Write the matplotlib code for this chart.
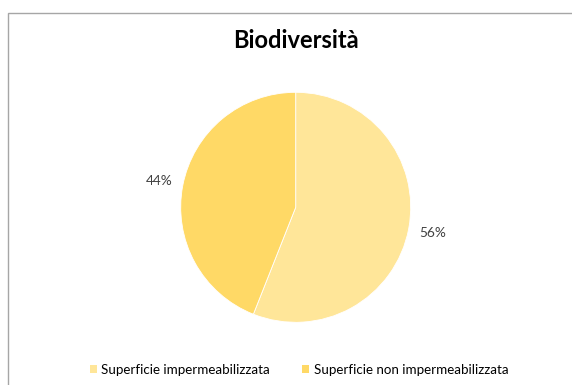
import matplotlib.pyplot as plt
from matplotlib.patches import Rectangle, Patch

# Dati
categorie = ['Superficie impermeabilizzata', 'Superficie non impermeabilizzata']
valori = [56, 44]
colori = ['#FFE699', '#FFD966']
titolo = 'Biodiversità'

plt.rcParams['font.family'] = ['Lato', 'DejaVu Sans']

W, H = 572, 385
fig = plt.figure(figsize=(W / 100, H / 100), dpi=100)

# cornice grigia del grafico (esce a destra e in basso)
fig.patches.append(Rectangle((8 / W, -0.1), 1.2, (H - 13.5) / H + 0.1,
                             transform=fig.transFigure, fill=False,
                             edgecolor='#A6A6A6', linewidth=1.0))

# torta: centro (295.7, 207.3) px, raggio 115 px
cx, cy, r = 295.7, 207.3, 115
ax = fig.add_axes([(cx - r) / W, (H - cy - r) / H, 2 * r / W, 2 * r / H])
wedges, testi, pct = ax.pie(valori, colors=colori, startangle=90, counterclock=False,
                            radius=1, autopct='%.0f%%', pctdistance=1.21,
                            wedgeprops=dict(edgecolor='white', linewidth=0.6),
                            textprops=dict(fontsize=9.8, color='#404040'))
ax.set_xlim(-1, 1)
ax.set_ylim(-1, 1)
ax.axis('off')

fig.text(cx / W, (H - 48) / H, titolo, ha='center', va='baseline',
         fontsize=17, fontweight='bold', color='black')

maniglie = [Patch(facecolor=c, edgecolor='none') for c in colori]
fig.legend(maniglie, categorie, ncol=2, frameon=False, fontsize=9.6,
           loc='center left', bbox_to_anchor=(90 / W, (H - 370) / H),
           borderpad=0, borderaxespad=0, handlelength=0.53, handleheight=0.53,
           handletextpad=0.33, columnspacing=2.4, labelcolor='black')

fig.savefig('out.png', dpi=100)
